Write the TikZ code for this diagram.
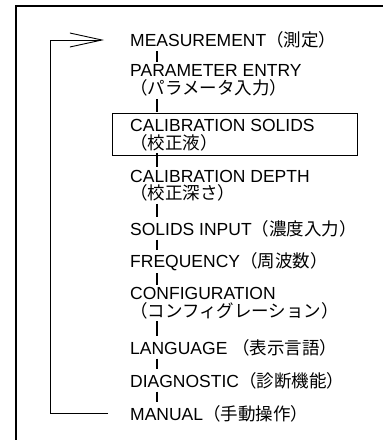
\documentclass[tikz,border=0pt]{standalone}
\usepackage{fontspec}
\setmainfont{Liberation Sans}
\newfontfamily\jp{Noto Sans CJK JP}
\usetikzlibrary{arrows.meta}
\tikzset{
  item/.style={anchor=west, inner xsep=0pt, inner ysep=1pt, align=left,
    font=\fontsize{17.5}{17.5}\selectfont},
  tick/.style={line width=1.4pt, shorten <=1.5pt, shorten >=1.5pt},
  frame/.style={line width=2pt},
  loopline/.style={line width=0.9pt},
  selbox/.style={draw, line width=0.9pt, anchor=north west, minimum width=245pt, minimum height=42pt, inner sep=0pt}
}
\begin{document}
\begin{tikzpicture}[x=1pt,y=-1pt]
\useasboundingbox (0,0) rectangle (383,440);
% frame
\draw[frame] (16,441) -- (16,5.5) -- (384,5.5);
% selection box
\node[selbox] (box) at (112,113) {};
% items
\node[item] (meas) at (130,40) {MEASUREMENT{\jp（測定）}};
\node[item] (param) at (130,80.5) {PARAMETER ENTRY\\{\jp（パラメータ入力）}};
\node[item] (calsol) at (130,135) {CALIBRATION SOLIDS\\{\jp（校正液）}};
\node[item] (caldep) at (130,185.5) {CALIBRATION DEPTH\\{\jp（校正深さ）}};
\node[item] (solin) at (130,228.5) {SOLIDS INPUT{\jp（濃度入力）}};
\node[item] (freq) at (130,261.5) {FREQUENCY{\jp（周波数）}};
\node[item] (conf) at (130,303) {CONFIGURATION\\{\jp（コンフィグレーション）}};
\node[item] (lang) at (130,347.5) {LANGUAGE {\jp（表示言語）}};
\node[item] (diag) at (130,380.5) {DIAGNOSTIC{\jp（診断機能）}};
\node[item] (man) at (130,413.5) {MANUAL{\jp（手動操作）}};
% ticks
\coordinate (tx) at (157,0);
\foreach \a/\b in {meas/param, param/box, calsol/caldep, caldep/solin, solin/freq, freq/conf, conf/lang, lang/diag, diag/man}
  \draw[tick] (\a.south -| tx) -- (\b.north -| tx);
% loop back
\coordinate (lc) at (50,40);
\draw[loopline, -{Straight Barb[length=32pt, width=14pt, line width=0.9pt]}, shorten <=22pt, shorten >=26pt]
  (man.west) -| (lc) -- (meas.west);
\end{tikzpicture}
\end{document}
